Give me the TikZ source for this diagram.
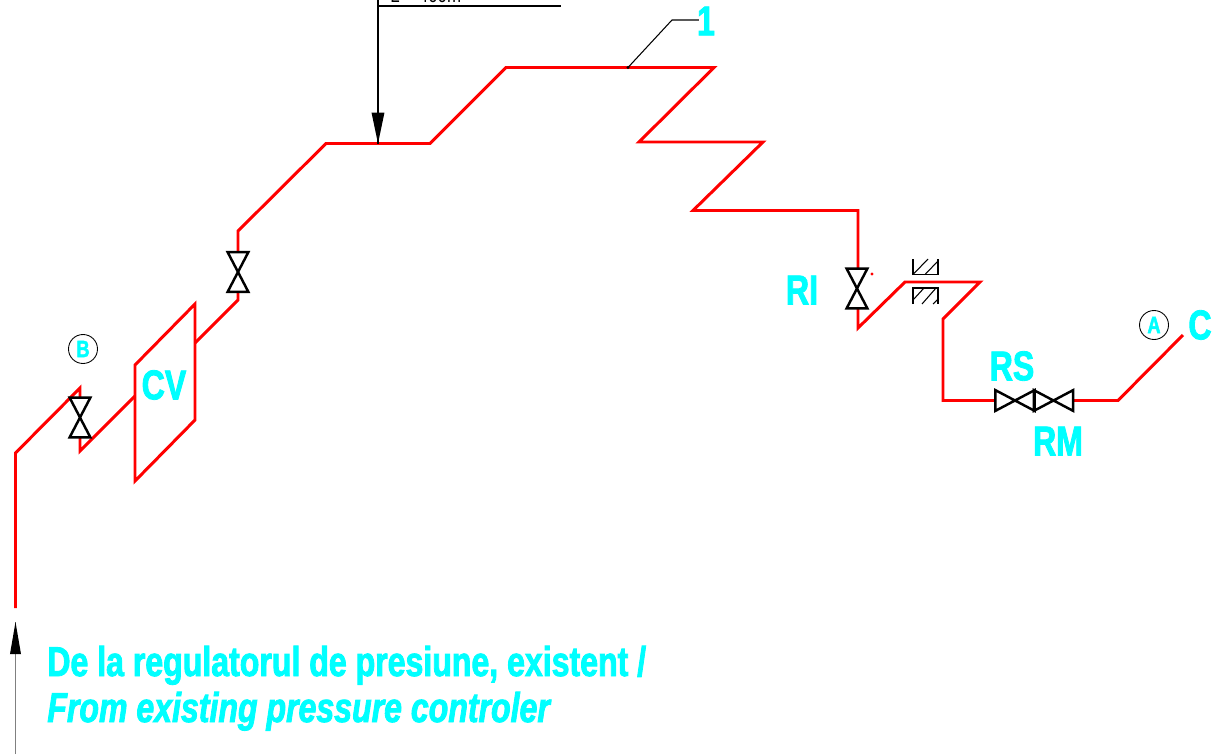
\documentclass[tikz,border=0pt]{standalone}
\usepackage{fontspec}
\usepackage{tikz}
\definecolor{cadcyan}{RGB}{0,255,255}
\newfontfamily\cadfont[FakeStretch=0.77,FakeBold=2,ItalicFont={Liberation Sans Bold Italic}]{Liberation Sans Bold}
\newfontfamily\dimfont[FakeStretch=0.8]{Liberation Sans}

\begin{document}
\begin{tikzpicture}[scale=0.2]
\tikzstyle{every node}+=[inner sep=0pt]
\tikzstyle{pipe}=[draw=red,line width=1.7pt,line join=miter]
\tikzstyle{thinline}=[draw=black,line width=0.6pt]
\tikzstyle{valve}=[minimum width=0.4cm,minimum height=0.78cm]
\tikzstyle{valveh}=[minimum width=0.77cm,minimum height=0.4cm]
\tikzstyle{cadtag}=[text=cadcyan,font=\cadfont\fontsize{23.7}{26}\selectfont]
\tikzstyle{smalltag}=[text=cadcyan,font=\cadfont\fontsize{13.5}{15}\selectfont]
\tikzstyle{bubble}=[draw=black,line width=0.5pt,circle,minimum size=0.58cm]
\useasboundingbox (0,0) rectangle (121.4,-75.4);
\clip (0,0) rectangle (121.4,-75.4);
% pipe vertices
\coordinate (inlet) at (1.55,-60.8);
\coordinate (b1) at (1.55,-45.3);
\coordinate (b2) at (8,-38.8);
\coordinate (b3) at (8,-45.1);
\coordinate (cvIn) at (13.5,-39.6);
\coordinate (cvOut) at (19.5,-34.3);
\coordinate (u1) at (23.8,-30);
\coordinate (u2) at (23.8,-23.1);
\coordinate (u3) at (32.6,-14.35);
\coordinate (u4) at (37.8,-14.35);
\coordinate (u5) at (43,-14.35);
\coordinate (u6) at (50.6,-6.75);
\coordinate (u7) at (62.8,-6.75);
\coordinate (u8) at (71.4,-6.75);
\coordinate (u9) at (63.9,-14.2);
\coordinate (u10) at (76.3,-14.2);
\coordinate (u11) at (69.3,-21.05);
\coordinate (u12) at (85.8,-21.05);
\coordinate (i1) at (85.8,-32.8);
\coordinate (i2) at (90.5,-28.2);
\coordinate (i3) at (98,-28.2);
\coordinate (i4) at (94.3,-31.9);
\coordinate (i5) at (94.3,-40.05);
\coordinate (o1) at (111.8,-40.05);
\coordinate (outlet) at (118.3,-33.5);
% valves
\node [valve] (vlvB) at (8,-41.75) {};
\node [valve] (vlvU) at (23.8,-27.2) {};
\node [valve] (vlvI) at (85.7,-28.85) {};
\node [valveh] (vlvS) at (101.5,-40.05) {};
\node [valveh] (vlvM) at (105.35,-40.05) {};
% pipe
\draw [pipe] (inlet) -- (b1) -- (b2) -- (vlvB.north);
\draw [pipe] (vlvB.south) -- (b3) -- (cvIn);
\draw [pipe] (cvOut) -- (u1) -- (vlvU.south);
\draw [pipe] (vlvU.north) -- (u2) -- (u3) -- (u5) -- (u6) -- (u8) -- (u9) -- (u10) -- (u11) -- (u12) -- (vlvI.north -| u12);
\draw [pipe] (vlvI.south -| u12) -- (i1) -- (i2) -- (i3) -- (i4) -- (i5) -- (vlvS.west);
\draw [pipe] (vlvM.east) -- (o1) -- (outlet);
\foreach \v in {vlvB,vlvU,vlvI} {
\draw [black,line width=1.4pt] (\v.north west) -- (\v.north east) -- (\v.south west) -- (\v.south east) -- cycle;
}
\foreach \v in {vlvS,vlvM} {
\draw [black,line width=1.4pt] (\v.north west) -- (\v.south west) -- (\v.north east) -- (\v.south east) -- cycle;
}
% control valve plate
\draw [pipe] (13.5,-36.5) -- (19.5,-30.4) -- (19.5,-42) -- (13.5,-48.1) -- cycle;
\fill [red] (87.2,-27.4) circle (0.16);
% orifice hatch
\draw [thinline] (91.3,-25.9) -- (91.3,-27.45) -- (93.8,-27.45) -- (93.8,-25.9);
\draw [thinline] (91.3,-27.45) -- (92.8,-25.9);
\draw [thinline] (92.5,-27.45) -- (93.8,-26.1);
\draw [thinline] (91.3,-30.4) -- (91.3,-28.8) -- (93.8,-28.8) -- (93.8,-30.4);
\draw [thinline] (91.3,-30) -- (92.4,-28.8);
\draw [thinline] (92.2,-30.4) -- (93.6,-28.8);
\draw [thinline] (93.3,-30.4) -- (93.8,-29.9);
% leaders
\coordinate (dimTop) at (37.8,0);
\coordinate (dimBend) at (37.8,-0.6);
\coordinate (dimEnd) at (56.1,-0.6);
\coordinate (ref1) at (67.2,-2);
\coordinate (ref2) at (69.9,-2);
\coordinate (inTail) at (1.55,-75.4);
\coordinate (inTip) at (1.55,-62.2);
\draw [thinline] (dimTop) -- (u4);
\draw [thinline] (dimBend) -- (dimEnd);
\fill [black] (u4) -- ++(0.65,3.1) -- ++(-1.3,0) -- cycle;
\node [text=black,anchor=base west,font=\dimfont\fontsize{12}{14}\selectfont] (dimText) at (39,-0.25) {L = 400m};
\draw [thinline] (u7) -- (ref1) -- (ref2);
\fill [black] (u7) circle (0.17);
\draw [line width=0.6pt,draw=gray] (inTail) -- (inTip);
\fill [black] (inTip) -- ++(0.55,-3.2) -- ++(-1.1,0) -- cycle;
% labels
\node [cadtag] (tagOne) at (70.6,-2.1) {1};
\node [cadtag] (tagCV) at (16.4,-38.5) {CV};
\node [cadtag] (tagRI) at (80.2,-29) {RI};
\node [cadtag] (tagRS) at (101.2,-36.6) {RS};
\node [cadtag] (tagRM) at (105.8,-44.1) {RM};
\node [cadtag] (tagC) at (120,-32.5) {C};
\node [bubble] (bubA) at (115.4,-32.5) {};
\node [smalltag] (tagA) at (bubA) {A};
\node [bubble] (bubB) at (8.3,-34.9) {};
\node [smalltag] (tagB) at (bubB) {B};
\node [cadtag,anchor=base west] (fromRo) at (4.7,-67.6) {De la regulatorul de presiune, existent /};
\node [cadtag,anchor=base west,font=\cadfont\itshape\fontsize{23.7}{26}\selectfont] (fromEn) at (4.7,-72.2) {From existing pressure controler};
\end{tikzpicture}
\end{document}
